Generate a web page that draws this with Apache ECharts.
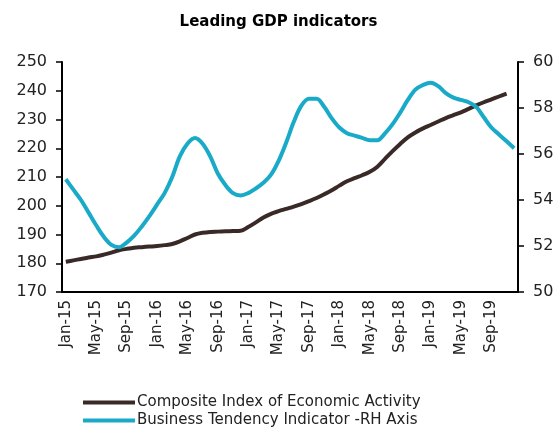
<!DOCTYPE html>
<html>
<head>
<meta charset="utf-8">
<script src="https://cdn.jsdelivr.net/npm/echarts@6/dist/echarts.min.js"></script>
<style>
  html, body { margin: 0; padding: 0; background: #fff; }
  #chart { width: 557px; height: 429px; }
</style>
</head>
<body>
<div id="chart"></div>
<script>
// months Jan-15 .. Dec-19
var monthNames = ['Jan', 'Feb', 'Mar', 'Apr', 'May', 'Jun', 'Jul', 'Aug', 'Sep', 'Oct', 'Nov', 'Dec'];
var years = ['15', '16', '17', '18', '19'];
var months = [];
years.forEach(function (y) {
  monthNames.forEach(function (m) { months.push(m + '-' + y); });
});

// Composite Index of Economic Activity (left axis), Jan-15 .. Nov-19
var compositeIndex = [
  180.5, 181.0, 181.5, 182.0, 182.4, 183.0, 183.7, 184.5, 185.0, 185.4, 185.6, 185.8,
  186.0, 186.3, 186.7, 187.6, 188.8, 190.0, 190.6, 190.9, 191.0, 191.1, 191.2, 191.3,
  192.6, 194.2, 195.9, 197.2, 198.1, 198.9, 199.7, 200.6, 201.6, 202.7, 204.0, 205.4,
  207.0, 208.5, 209.6, 210.6, 211.8, 213.6, 216.3, 219.0, 221.5, 223.8, 225.5, 226.9,
  228.1, 229.3, 230.5, 231.5, 232.5, 233.7, 234.9, 236.0, 237.0, 238.0, 239.0
];

// Business Tendency Indicator (right axis), Jan-15 .. Dec-19
var businessTendency = [
  54.9, 54.45, 54.0, 53.45, 52.9, 52.4, 52.05, 51.95, 52.15, 52.45, 52.85, 53.3,
  53.8, 54.3, 55.0, 55.9, 56.45, 56.7, 56.45, 55.9, 55.15, 54.65, 54.3, 54.2,
  54.3, 54.5, 54.75, 55.1, 55.7, 56.5, 57.4, 58.1, 58.4, 58.4, 58.05, 57.55,
  57.15, 56.9, 56.8, 56.7, 56.6, 56.6, 56.9, 57.3, 57.8, 58.35, 58.8, 59.0,
  59.1, 58.95, 58.65, 58.45, 58.35, 58.25, 58.05, 57.6, 57.15, 56.85, 56.55, 56.25
];

var font = '"DejaVu Sans", sans-serif';
var chart = echarts.init(document.getElementById('chart'));

var legendBase = {
  left: 83,
  padding: 0,
  itemWidth: 52,
  itemHeight: 4,
  icon: 'rect',
  textStyle: { fontFamily: font, fontSize: 15, color: '#222', padding: [0, 0, 0, -3] }
};

chart.setOption({
  animation: false,
  backgroundColor: '#fff',
  title: {
    text: 'Leading GDP indicators',
    left: 'center',
    top: 15,
    padding: 0,
    textStyle: { fontFamily: font, fontSize: 15, fontWeight: 'bold', color: '#000' }
  },
  legend: [
    Object.assign({}, legendBase, { top: 395, data: ['Composite Index of Economic Activity'] }),
    Object.assign({}, legendBase, { top: 413, data: ['Business Tendency Indicator -RH Axis'] })
  ],
  grid: { left: 62, right: 39, top: 62, bottom: 137 },
  xAxis: {
    type: 'category',
    data: months,
    boundaryGap: true,
    axisLine: { lineStyle: { color: '#000', width: 2 } },
    axisTick: { interval: 3, length: 6, lineStyle: { color: '#000', width: 1.5 } },
    axisLabel: {
      interval: 3,
      rotate: 90,
      margin: 8,
      fontFamily: font,
      fontSize: 15,
      color: '#222'
    }
  },
  yAxis: [{
    type: 'value',
    min: 170,
    max: 250,
    interval: 10,
    position: 'left',
    axisLine: { show: true, lineStyle: { color: '#000', width: 2 } },
    axisTick: { show: true, length: 6, lineStyle: { color: '#000', width: 1.5 } },
    axisLabel: { fontFamily: font, fontSize: 16, color: '#222', margin: 15 },
    splitLine: { show: false }
  }, {
    type: 'value',
    min: 50,
    max: 60,
    interval: 2,
    position: 'right',
    axisLine: { show: true, lineStyle: { color: '#000', width: 2 } },
    axisTick: { show: true, length: 6, lineStyle: { color: '#000', width: 1.5 } },
    axisLabel: { fontFamily: font, fontSize: 16, color: '#222', margin: 15 },
    splitLine: { show: false }
  }],
  series: [{
    name: 'Composite Index of Economic Activity',
    type: 'line',
    data: compositeIndex,
    yAxisIndex: 0,
    smooth: 0.35,
    showSymbol: false,
    color: '#3a2a27',
    lineStyle: { width: 4, color: '#3a2a27' }
  }, {
    name: 'Business Tendency Indicator -RH Axis',
    type: 'line',
    data: businessTendency,
    yAxisIndex: 1,
    smooth: 0.35,
    showSymbol: false,
    color: '#19aac8',
    lineStyle: { width: 4, color: '#19aac8' }
  }]
});
</script>
</body>
</html>
